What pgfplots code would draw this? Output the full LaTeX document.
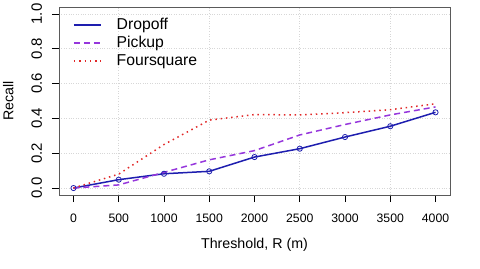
\documentclass[border=0pt]{standalone}
\usepackage{pgfplots}
\pgfplotsset{compat=1.18}
\usepackage{fontspec}
\setmainfont{Liberation Sans}
\definecolor{cdrop}{RGB}{30,30,175}
\definecolor{cpick}{RGB}{150,55,220}
\definecolor{cfour}{RGB}{225,40,40}
\definecolor{cgrid}{RGB}{215,215,215}
\definecolor{cbox}{RGB}{90,90,90}
\begin{document}
\begin{tikzpicture}
\useasboundingbox (0,0) rectangle (480bp,269bp);
\begin{axis}[
  at={(59bp,74bp)}, anchor=south west,
  scale only axis, width=391bp, height=188bp,
  xmin=-160, xmax=4160, ymin=-0.04, ymax=1.04,
  xtick={0,500,...,4000},
  ytick={0,0.2,...,1.0},
  minor xtick={500,1500,2500,3500},
  xminorgrids=true, ymajorgrids=true, xmajorgrids=false,
  minor tick length=0pt,
  grid style={cgrid, dotted, line width=0.6bp},
  minor grid style={cgrid, dotted, line width=0.6bp},
  axis line style={cbox, line width=0.8bp},
  tick align=outside, major tick length=7bp,
  major tick style={black, line width=0.8bp},
  xtick pos=lower, ytick pos=left,
  /pgf/number format/assume math mode=true,
  /pgf/number format/1000 sep={},
  yticklabel style={/pgf/number format/fixed, /pgf/number format/fixed zerofill, /pgf/number format/precision=1, rotate=90, anchor=base, font=\fontsize{15}{17}\selectfont},
  xticklabel style={anchor=base, font=\fontsize{12.3}{14}\selectfont},
  xticklabel shift=20bp,
  yticklabel shift=10bp,
  xlabel={Threshold, R (m)},
  ylabel={Recall},
  xlabel style={font=\fontsize{14.3}{16}\selectfont, at={(axis description cs:0.5,-0.2872)}, anchor=base},
  ylabel style={font=\fontsize{14.3}{16}\selectfont, at={(axis description cs:-0.1169,0.5)}, anchor=base, rotate=0},
  legend style={draw=none, fill=none, inner sep=0pt, at={(rel axis cs:0.0358,0.9415)}, anchor=north west,
    font=\fontsize{15.8}{18}\selectfont, column sep=15bp, row sep=4bp,
    nodes={inner sep=0pt, text height=11bp, text depth=3bp}},
  legend cell align=left,
  legend image code/.code={\draw[#1] (0bp,0bp) -- (27bp,0bp);},
]
\addplot[cdrop, line width=1.5bp, mark=o, mark size=2.6bp, mark options={line width=0.8bp, solid}] coordinates {
 (0,0) (500,0.048) (1000,0.082) (1500,0.096) (2000,0.178) (2500,0.226) (3000,0.293) (3500,0.355) (4000,0.435)};
\addlegendentry{Dropoff}
\addplot[cpick, line width=1.5bp, dash pattern=on 6bp off 4bp] coordinates {
 (0,0) (500,0.018) (1000,0.09) (1500,0.162) (2000,0.215) (2500,0.305) (3000,0.365) (3500,0.42) (4000,0.466)};
\addlegendentry{Pickup}
\addplot[cfour, line width=1.5bp, dash pattern=on 1.5bp off 3.8bp] coordinates {
 (0,0) (500,0.08) (1000,0.25) (1500,0.39) (2000,0.422) (2500,0.42) (3000,0.433) (3500,0.45) (4000,0.484)};
\addlegendentry{Foursquare}
\end{axis}
\end{tikzpicture}
\end{document}
